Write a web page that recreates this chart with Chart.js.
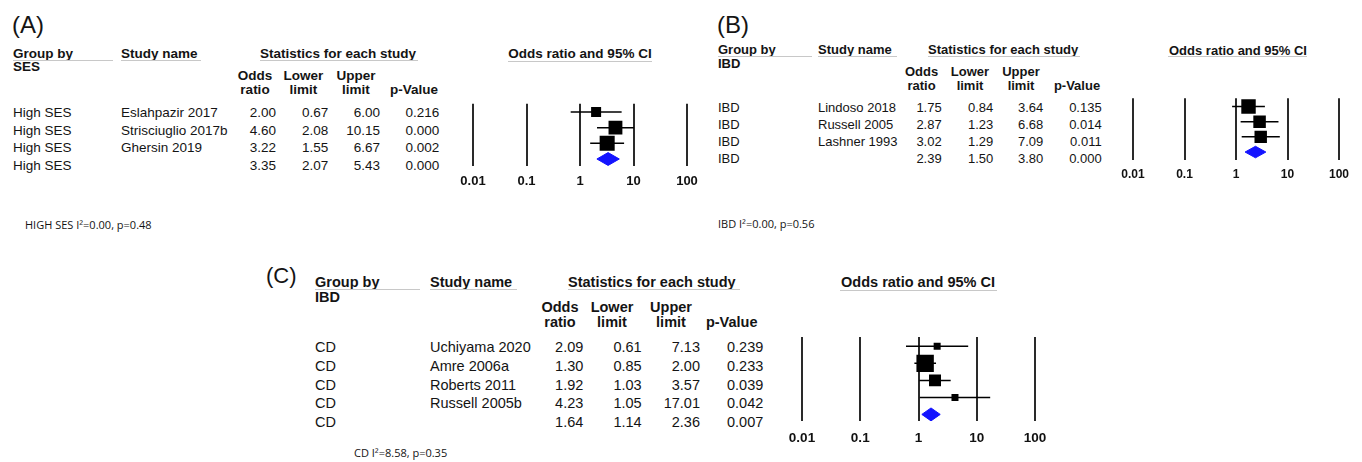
<!DOCTYPE html>
<html>
<head>
<meta charset="utf-8">
<script src="https://cdn.jsdelivr.net/npm/chart.js@4.4.1/dist/chart.umd.min.js"></script>
<style>
  body { margin: 0; background: #fff; width: 1362px; height: 462px; position: relative; overflow: hidden;
         font-family: "Liberation Sans", Arial, sans-serif; color: #141414; }
  .t { position: absolute; white-space: nowrap; line-height: 1; }
  .b { font-weight: bold; }
  .ul { position: absolute; height: 1px; background: #c8c8c8; }
  canvas { position: absolute; }
</style>
</head>
<body>
<script>
// ---- data ----
const tickVals = [0.01, 0.1, 1, 10, 100];
const statHeads = [['Odds', 'ratio'], ['Lower', 'limit'], ['Upper', 'limit'], ['', 'p-Value']];

// (A) grouped by SES
const groupA = ['High SES', 'High SES', 'High SES', 'High SES'];
const studyA = ['Eslahpazir 2017', 'Strisciuglio 2017b', 'Ghersin 2019', ''];
const orA = [2.00, 4.60, 3.22, 3.35];
const lowA = [0.67, 2.08, 1.55, 2.07];
const highA = [6.00, 10.15, 6.67, 5.43];
const pA = [0.216, 0.000, 0.002, 0.000];

// (B) grouped by IBD
const groupB = ['IBD', 'IBD', 'IBD', 'IBD'];
const studyB = ['Lindoso 2018', 'Russell 2005', 'Lashner 1993', ''];
const orB = [1.75, 2.87, 3.02, 2.39];
const lowB = [0.84, 1.23, 1.29, 1.50];
const highB = [3.64, 6.68, 7.09, 3.80];
const pB = [0.135, 0.014, 0.011, 0.000];

// (C) CD
const groupC = ['CD', 'CD', 'CD', 'CD', 'CD'];
const studyC = ['Uchiyama 2020', 'Amre 2006a', 'Roberts 2011', 'Russell 2005b', ''];
const orC = [2.09, 1.30, 1.92, 4.23, 1.64];
const lowC = [0.61, 0.85, 1.03, 1.05, 1.14];
const highC = [7.13, 2.00, 3.57, 17.01, 2.36];
const pC = [0.239, 0.233, 0.039, 0.042, 0.007];

const panels = [
  { data: { label: '(A)', by: 'SES', group: groupA, study: studyA, or: orA, low: lowA, high: highA, p: pA,
            note: 'HIGH SES I\u00b2=0.00, p=0.48' },
    L: { lx: 12, ly: 25, lsize: 24, font: 13.5, group: 13, study: 121, stats: 260,
         hdrY: 53.3, subY: 66.7, colY: [76, 89.3], ulY: 60,
         cen: [255, 303.5, 356, 414], right: [276, 328.3, 380, 439.3],
         ul: [[13, 113], [121, 201], [260, 418]],
         row0: 112.7, step: 17.55,
         plot: [473, 687, 103.3, 173.3], tick: 13, tickY: 188.3,
         title: [580, 53.3], titleUl: [508, 652],
         noteX: 25, noteY: 224.5, k: 5.6, minSq: 7, dh: 0.41 } },
  { data: { label: '(B)', by: 'IBD', group: groupB, study: studyB, or: orB, low: lowB, high: highB, p: pB,
            note: 'IBD I\u00b2=0.00, p=0.56' },
    L: { lx: 717, ly: 25, lsize: 24, font: 13, group: 718, study: 818, stats: 928,
         hdrY: 49.3, subY: 63.3, colY: [71.3, 85], ulY: 55.5,
         cen: [921.5, 970, 1021, 1077], right: [941.7, 993.3, 1043.3, 1101.7],
         ul: [[718, 812], [818, 897], [928, 1080]],
         row0: 107.3, step: 17.1,
         plot: [1133, 1339, 98, 167], tick: 12, tickY: 181.7,
         title: [1238, 50], titleUl: [1168, 1307],
         noteX: 718, noteY: 224, k: 5.4, minSq: 7, dh: 0.38 } },
  { data: { label: '(C)', by: 'IBD', group: groupC, study: studyC, or: orC, low: lowC, high: highC, p: pC,
            note: 'CD I\u00b2=8.58, p=0.35' },
    L: { lx: 266, ly: 276, lsize: 22, font: 14.5, group: 315, study: 430, stats: 568,
         hdrY: 281.7, subY: 296.7, colY: [306.7, 321.7], ulY: 289,
         cen: [560, 612, 671, 731.7], right: [583.3, 641.7, 700, 763.3],
         ul: [[315, 420], [430, 517], [568, 740]],
         row0: 347.3, step: 18.75,
         plot: [802, 1035, 337, 430], tick: 13.5, tickY: 446.7,
         title: [918, 281.7], titleUl: [840, 997],
         noteX: 354, noteY: 453.3, k: 3.8, minSq: 7, dh: 0.38 } }
];

// ---- text helpers ----
function addText(txt, x, y, size, opt) {
  opt = opt || {};
  const el = document.createElement('div');
  el.className = 't' + (opt.bold ? ' b' : '');
  el.textContent = txt;
  el.style.fontSize = size + 'px';
  const capMid = opt.family ? 0.531 : 0.4885;
  if (opt.family) el.style.fontFamily = opt.family;
  el.style.left = x + 'px';
  el.style.top = (y - capMid * size) + 'px';
  if (opt.align === 'right') el.style.transform = 'translateX(-100%)';
  if (opt.align === 'center') el.style.transform = 'translateX(-50%)';
  document.body.appendChild(el);
}

function addLine(x1, x2, y) {
  const el = document.createElement('div');
  el.className = 'ul';
  el.style.left = x1 + 'px';
  el.style.width = (x2 - x1) + 'px';
  el.style.top = y + 'px';
  document.body.appendChild(el);
}

function buildTable(d, L) {
  const f = L.font;
  addText(d.label, L.lx, L.ly, L.lsize);
  addText('Group by', L.group, L.hdrY, f, { bold: true });
  addText(d.by, L.group, L.subY, f, { bold: true });
  addText('Study name', L.study, L.hdrY, f, { bold: true });
  addText('Statistics for each study', L.stats, L.hdrY, f, { bold: true });
  L.ul.forEach(u => addLine(u[0], u[1], L.ulY));
  statHeads.forEach((h, j) => {
    if (h[0]) addText(h[0], L.cen[j], L.colY[0], f, { bold: true, align: 'center' });
    addText(h[1], L.cen[j], L.colY[1], f, { bold: true, align: 'center' });
  });
  d.or.forEach((v, i) => {
    const y = L.row0 + i * L.step;
    addText(d.group[i], L.group, y, f);
    if (d.study[i]) addText(d.study[i], L.study, y, f);
    addText(v.toFixed(2), L.right[0], y, f, { align: 'right' });
    addText(d.low[i].toFixed(2), L.right[1], y, f, { align: 'right' });
    addText(d.high[i].toFixed(2), L.right[2], y, f, { align: 'right' });
    addText(d.p[i].toFixed(3), L.right[3], y, f, { align: 'right' });
  });
  addText('Odds ratio and 95% CI', L.title[0], L.title[1], f, { bold: true, align: 'center' });
  addLine(L.titleUl[0], L.titleUl[1], L.ulY + 0.5);
  addText(d.note, L.noteX, L.noteY, 11, { family: '"Open Sans", sans-serif' });
}

// ---- forest plot ----
function buildChart(d, L) {
  const pt = 10, pl = 30, pr = 30;
  const left = Math.round(L.plot[0] - pl), top = Math.round(L.plot[2] - pt);
  const padL = L.plot[0] - left, padT = L.plot[2] - top;
  const plotW = L.plot[1] - L.plot[0], plotH = L.plot[3] - L.plot[2];
  const tickPad = L.tickY - L.plot[3] - 0.6 * L.tick;
  const axisH = tickPad + 1.2 * L.tick;
  const w = Math.ceil(padL + plotW + pr), h = Math.ceil(padT + plotH + axisH + 2);
  const padR = w - padL - plotW, padB = h - padT - plotH - axisH;

  const cv = document.createElement('canvas');
  cv.width = w; cv.height = h;
  cv.style.left = left + 'px'; cv.style.top = top + 'px';
  document.body.appendChild(cv);

  const n = d.or.length - 1;
  // square side ~ sqrt(inverse-variance weight)
  const sides = d.or.slice(0, n).map((v, i) => {
    const se = (Math.log(d.high[i]) - Math.log(d.low[i])) / 3.92;
    return Math.max(L.minSq, L.k / se);
  });

  const datasets = [{
    data: d.or.slice(0, n).map((v, i) => ({ x: v, y: i })),
    showLine: false,
    pointStyle: 'rect',
    pointRadius: sides.map(s => s / Math.SQRT2),
    pointBackgroundColor: '#000',
    pointBorderWidth: 0,
    borderWidth: 0
  }];
  for (let i = 0; i < n; i++) {
    datasets.push({
      data: [{ x: d.low[i], y: i }, { x: d.high[i], y: i }],
      borderColor: '#000', borderWidth: 1.5, pointRadius: 0
    });
  }
  datasets.push({
    data: [{ x: d.low[n], y: n }, { x: d.or[n], y: n - L.dh }, { x: d.high[n], y: n },
           { x: d.or[n], y: n + L.dh }, { x: d.low[n], y: n }],
    fill: 'shape', backgroundColor: '#1414ff', borderColor: '#1414ff', borderWidth: 1, pointRadius: 0
  });

  new Chart(cv, {
    type: 'line',
    data: { datasets },
    options: {
      responsive: false,
      animation: false,
      events: [],
      layout: { padding: { left: padL, right: padR, top: padT, bottom: padB } },
      plugins: { legend: { display: false }, tooltip: { enabled: false } },
      scales: {
        x: {
          type: 'logarithmic', min: 0.01, max: 100,
          afterBuildTicks: s => { s.ticks = tickVals.map(v => ({ value: v })); },
          ticks: {
            autoSkip: false, maxRotation: 0, padding: tickPad, color: '#111',
            font: { family: '"Liberation Sans", Arial, sans-serif', size: L.tick, weight: 'bold' },
            callback: v => String(v)
          },
          grid: { color: '#2a2a2a', lineWidth: 2, drawTicks: false },
          border: { display: false }
        },
        y: {
          type: 'linear', display: false, reverse: true,
          min: -(L.row0 - L.plot[2]) / L.step,
          max: (L.plot[3] - L.row0) / L.step
        }
      }
    }
  });
}

panels.forEach(p => { buildTable(p.data, p.L); buildChart(p.data, p.L); });
</script>
</body>
</html>
